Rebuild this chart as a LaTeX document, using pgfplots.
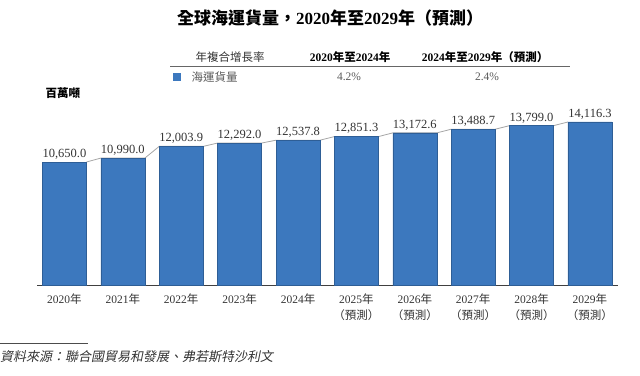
\documentclass[border=0pt]{standalone}
\usepackage{fontspec}
\setmainfont{Liberation Serif}
\newfontfamily\cjk{Noto Sans CJK TC}
\newfontfamily\cjkit[FakeSlant=0.2]{Noto Sans CJK TC}
\usepackage{pgfplots}
\usepackage{pgfplotstable}
\pgfplotsset{compat=1.18}
\definecolor{barblue}{HTML}{3C78BE}
\definecolor{baredge}{HTML}{2E5E96}
\definecolor{txt}{HTML}{333333}
\pgfplotstableread{
x y label
0 10650.0 10,650.0
1 10990.0 10,990.0
2 12003.9 12,003.9
3 12292.0 12,292.0
4 12537.8 12,537.8
5 12851.3 12,851.3
6 13172.6 13,172.6
7 13488.7 13,488.7
8 13799.0 13,799.0
9 14116.3 14,116.3
}\freight
\begin{document}
\begin{tikzpicture}
\path[use as bounding box] (0pt,0pt) rectangle (640pt,375pt);
\begin{axis}[
  at={(37pt,90pt)}, anchor=south west,
  scale only axis, width=581pt, height=179pt,
  xmin=-0.47, xmax=9.48, ymin=0, ymax=15500,
  axis x line*=bottom, axis y line=none,
  x axis line style={draw=black!75, line width=0.8pt, -},
  xtick={0,...,9}, major tick length=0pt,
  xticklabels={{2020{\cjk 年}},{2021{\cjk 年}},{2022{\cjk 年}},{2023{\cjk 年}},{2024{\cjk 年}},
    {2025{\cjk 年}\\{\cjk （預測）}},{2026{\cjk 年}\\{\cjk （預測）}},{2027{\cjk 年}\\{\cjk （預測）}},
    {2028{\cjk 年}\\{\cjk （預測）}},{2029{\cjk 年}\\{\cjk （預測）}}},
  xticklabel style={align=center, font=\fontsize{11.5}{16}\selectfont, text=txt, yshift=-5pt},
  clip=false,
]
\addplot[draw=black!35, line width=0.8pt] coordinates {
(0.377,10650.0) (0.623,10990.0) (1.377,10990.0) (1.623,12003.9) (2.377,12003.9) (2.623,12292.0)
(3.377,12292.0) (3.623,12537.8) (4.377,12537.8) (4.623,12851.3) (5.377,12851.3) (5.623,13172.6)
(6.377,13172.6) (6.623,13488.7) (7.377,13488.7) (7.623,13799.0) (8.377,13799.0) (8.623,14116.3)};
\addplot[ybar, bar width=44pt, fill=barblue, draw=baredge, line width=0.4pt,
  point meta=explicit symbolic,
  nodes near coords={\pgfplotspointmeta},
  every node near coord/.append style={font=\fontsize{12.5}{14}\selectfont, text=txt, inner sep=2.5pt}]
  table[x=x, y=y, meta=label] {\freight};
\end{axis}
% title
\node[font=\fontsize{17}{19}\selectfont\bfseries] at (330pt,357pt) {{\cjk\bfseries 全球海運貨量，}2020{\cjk\bfseries 年至}2029{\cjk\bfseries 年（預測）}};
% CAGR table
\node[font=\fontsize{11.5}{13}\selectfont, text=txt] at (230pt,318pt) {\cjk 年複合增長率};
\node[font=\fontsize{11.5}{13}\selectfont\bfseries] at (350pt,318pt) {2020{\cjk\bfseries 年至}2024{\cjk\bfseries 年}};
\node[font=\fontsize{11.5}{13}\selectfont\bfseries] at (485pt,318pt) {2024{\cjk\bfseries 年至}2029{\cjk\bfseries 年（預測）}};
\draw[black!60, line width=0.8pt] (170pt,309pt) -- (570pt,309pt);
\fill[barblue] (173pt,294pt) rectangle (181pt,302pt);
\node[font=\fontsize{11.5}{13}\selectfont, text=black!65, anchor=west] at (188pt,298pt) {\cjk 海運貨量};
\node[font=\fontsize{11.5}{13}\selectfont, text=black!65] at (349pt,298pt) {4.2\%};
\node[font=\fontsize{11.5}{13}\selectfont, text=black!65] at (487pt,298pt) {2.4\%};
% unit
\node[font=\fontsize{11.5}{13}\selectfont, anchor=west] at (42pt,282pt) {\cjk\bfseries 百萬噸};
% source
\draw[black!70, line width=0.6pt] (0pt,32pt) -- (88pt,32pt);
\node[font=\fontsize{13}{15}\selectfont, text=txt, anchor=west, inner sep=0pt] at (0pt,18pt) {\cjkit 資料來源：聯合國貿易和發展、弗若斯特沙利文};
\end{tikzpicture}
\end{document}
